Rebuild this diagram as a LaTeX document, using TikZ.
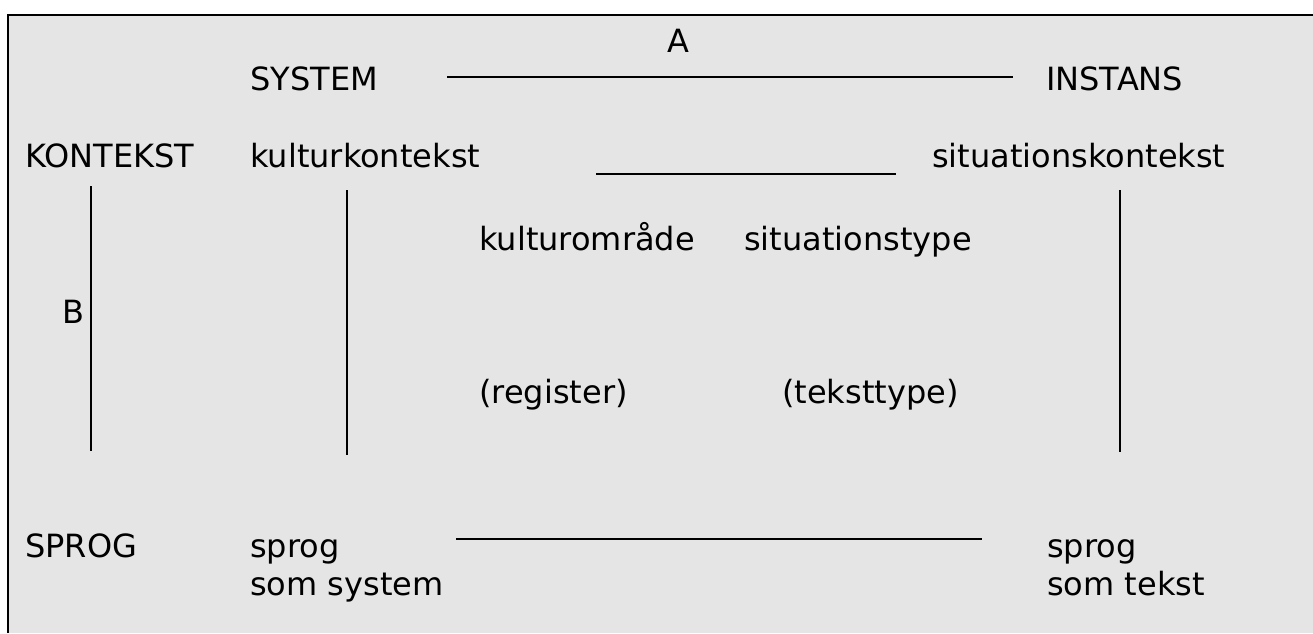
\documentclass[tikz,border=0pt]{standalone}
\usepackage{fontspec}
\setmainfont{DejaVu Sans}
\begin{document}
\begin{tikzpicture}[x=0.75pt,y=-0.75pt,
  lbl/.style={anchor=base west,inner sep=0pt,font=\fontsize{24}{28.5}\selectfont},
  conn/.style={line width=1.1pt,black}]
\useasboundingbox (0,0) rectangle (1313,633);
\fill[fill={rgb,255:red,229;green,229;blue,229}] (8,15) rectangle (1313,633);
\draw[line width=2pt] (8,633) -- (8,15) -- (1313,15);
% labels
\node[lbl] (A) at (667,52) {A};
\node[lbl] (system) at (250,90) {SYSTEM};
\node[lbl] (instans) at (1046,90) {INSTANS};
\node[lbl] (kontekst) at (25,167) {KONTEKST};
\node[lbl] (kultk) at (250,167) {kulturkontekst};
\node[lbl] (sitk) at (932,167) {situationskontekst};
\node[lbl] (kulto) at (479,250) {kulturområde};
\node[lbl] (sitt) at (744,250) {situationstype};
\node[lbl] (B) at (62,323) {B};
\node[lbl] (reg) at (479,403) {(register)};
\node[lbl] (tt) at (782,403) {(teksttype)};
\node[lbl] (sprogL) at (25,557) {SPROG};
\node[lbl,align=left] (sys) at (250,595) {sprog\\som system};
\node[lbl,align=left] (tekst) at (1047,595) {sprog\\som tekst};
% connector endpoints
\coordinate (h1a) at (447,77); \coordinate (h1b) at (1013,77);
\coordinate (h2a) at (596,174); \coordinate (h2b) at (896,174);
\coordinate (h3a) at (456,539); \coordinate (h3b) at (982,539);
\coordinate (v1a) at (91,186); \coordinate (v1b) at (91,451);
\coordinate (v2a) at (347,190); \coordinate (v2b) at (347,455);
\coordinate (v3a) at (1120,190); \coordinate (v3b) at (1120,452);
\draw[conn] (h1a) -- (h1b);
\draw[conn] (h2a) -- (h2b);
\draw[conn] (h3a) -- (h3b);
\draw[conn] (v1a) -- (v1b);
\draw[conn] (v2a) -- (v2b);
\draw[conn] (v3a) -- (v3b);
\end{tikzpicture}
\end{document}
